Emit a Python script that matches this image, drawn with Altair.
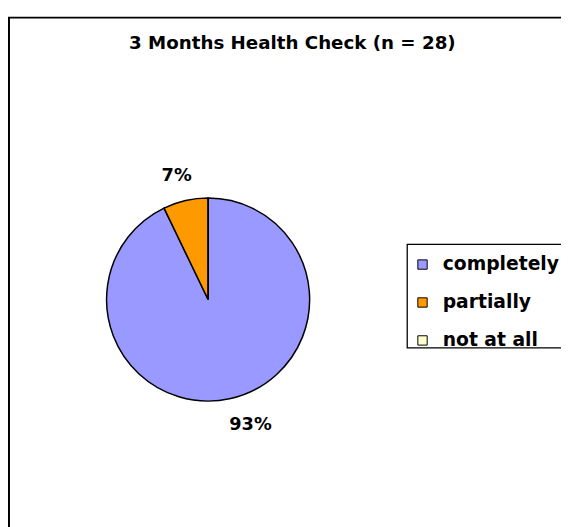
import altair as alt
import pandas as pd

# ---- data ----
categories = ["completely", "partially", "not at all"]
counts = [26, 2, 0]
colors = ["#9999FF", "#FF9900", "#FFFFCC"]
title_text = "3 Months Health Check (n = 28)"

df = pd.DataFrame({
    "category": categories,
    "count": counts,
    "order": list(range(len(categories))),
})

W, H = 561, 519          # drawing area (page minus 8px margin)
CX, CY = 203, 292        # pie centre
R = 103                  # pie radius
FONT = "DejaVu Sans"

base = (
    alt.Chart(df)
    .transform_joinaggregate(total="sum(count)")
    .transform_window(cum="sum(count)", sort=[alt.SortField("order")], frame=[None, 0])
    .transform_calculate(
        pct="format(datum.count / datum.total, '.0%')",
        mid="(datum.cum - datum.count / 2) / datum.total * 2 * PI",
    )
)

one = alt.Data(values=[{"k": 0}])

frame = alt.Chart(one).mark_rect(fill="white", stroke="black", strokeWidth=2).encode(
    x=alt.value(1), y=alt.value(6), x2=alt.value(W + 30), y2=alt.value(H + 30)
)

legend_box = alt.Chart(one).mark_rect(fill="white", stroke="black", strokeWidth=1.3).encode(
    x=alt.value(405), y=alt.value(236), x2=alt.value(W + 30), y2=alt.value(341)
)

pie = base.mark_arc(stroke="black", strokeWidth=1.5, outerRadius=R).encode(
    theta=alt.Theta("count:Q", stack=True),
    order=alt.Order("order:Q", sort="ascending"),
    color=alt.Color(
        "category:N",
        scale=alt.Scale(domain=categories, range=colors),
        legend=alt.Legend(
            title=None,
            orient="none",
            legendX=411,
            legendY=247,
            padding=0,
            rowPadding=18.5,
            symbolType="square",
            symbolSize=90,
            symbolStrokeColor="black",
            symbolStrokeWidth=1,
            labelFont=FONT,
            labelFontSize=19,
            labelFontWeight="bold",
            labelColor="black",
            labelOffset=11,
            labelLimit=400,
        ),
    ),
    x=alt.value(CX),
    y=alt.value(CY),
)

label_style = dict(font=FONT, fontSize=18, fontWeight="bold", color="black",
                   align="center", baseline="middle", radius=130)

lab_big = base.transform_filter("datum.category == 'completely'").mark_text(
    dx=14, dy=1, **label_style
).encode(
    theta=alt.Theta("mid:Q", scale=None, stack=False),
    text="pct:N",
    x=alt.value(CX),
    y=alt.value(CY),
)

lab_small = base.transform_filter("datum.category == 'partially'").mark_text(
    dx=-3, dy=1, **label_style
).encode(
    theta=alt.Theta("mid:Q", scale=None, stack=False),
    text="pct:N",
    x=alt.value(CX),
    y=alt.value(CY),
)

chart = (
    alt.layer(frame, legend_box, pie, lab_big, lab_small)
    .properties(
        width=W,
        height=H,
        autosize=alt.AutoSizeParams(type="none"),
        padding=0,
        title=alt.TitleParams(
            text=title_text,
            font=FONT,
            fontSize=18.5,
            fontWeight="bold",
            color="black",
            anchor="middle",
            frame="group",
            orient="top",
            offset=-56,
            baseline="alphabetic",
            dx=8,
        ),
    )
    .configure_view(stroke=None)
)

chart.save("out.html", embed_options={"renderer": "svg", "actions": False})
